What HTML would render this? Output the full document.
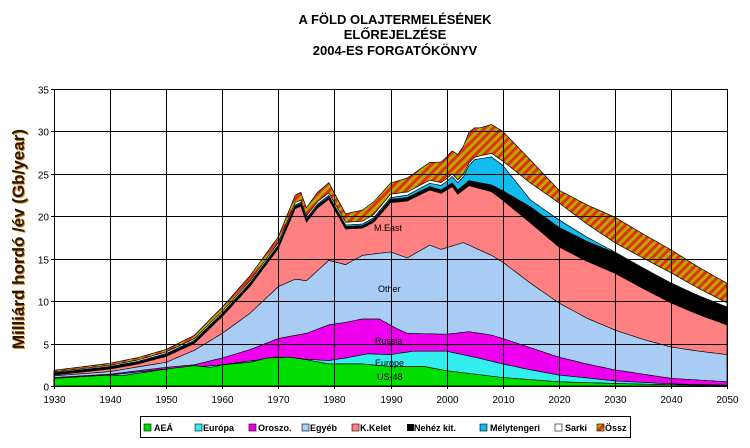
<!DOCTYPE html>
<html><head><meta charset="utf-8"><style>
body{margin:0;background:#fff;}
svg{display:block;font-family:"Liberation Sans",sans-serif;}
</style></head><body>
<svg id="s" width="750" height="448" viewBox="0 0 750 448" xmlns="http://www.w3.org/2000/svg">
<defs>
<pattern id="h" patternUnits="userSpaceOnUse" width="6" height="6" patternTransform="rotate(45)">
<rect width="6" height="6" fill="#b8a800"/><rect width="3" height="6" fill="#e03010"/>
</pattern>
</defs>
<g font-weight="bold" font-size="13" text-anchor="middle" fill="#000">
<text x="395" y="24">A FÖLD OLAJTERMELÉSÉNEK</text>
<text x="395" y="39">ELŐREJELZÉSE</text>
<text x="395" y="55">2004-ES FORGATÓKÖNYV</text>
</g>
<g id="areas"></g>
<g id="grid" stroke="#000" stroke-width="1"></g>
<g font-size="9" fill="#000">
<text x="374" y="231">M.East</text>
<text x="378" y="292">Other</text>
<text x="375" y="344">Russia</text>
<text x="375" y="366">Europe</text>
<text x="377" y="380">US-48</text>
</g>
<g id="ticks" font-size="10" fill="#000"></g>
<text transform="translate(25,240) rotate(-90)" text-anchor="middle" font-size="17" font-weight="bold" fill="#e08a20">Milliárd hordó /év (Gb/year)</text>
<text transform="translate(24,239) rotate(-90)" text-anchor="middle" font-size="17" font-weight="bold" fill="#2a1500">Milliárd hordó /év (Gb/year)</text>
<rect x="140.5" y="416.5" width="490" height="21" fill="#fff" stroke="#000"/>
<g font-size="9" font-weight="bold" fill="#000">
<rect x="144" y="424" width="7" height="7" fill="#00dd00" stroke="#000" stroke-width="0.6"/><text x="154" y="431">AEÁ</text>
<rect x="195" y="424" width="7" height="7" fill="#33eeee" stroke="#000" stroke-width="0.6"/><text x="203" y="431">Európa</text>
<rect x="249" y="424" width="7" height="7" fill="#ee00ee" stroke="#000" stroke-width="0.6"/><text x="258" y="431">Oroszo.</text>
<rect x="302" y="424" width="7" height="7" fill="#a8ccf4" stroke="#000" stroke-width="0.6"/><text x="310" y="431">Egyéb</text>
<rect x="352" y="424" width="7" height="7" fill="#ff8080" stroke="#000" stroke-width="0.6"/><text x="360" y="431">K.Kelet</text>
<rect x="407" y="424" width="7" height="7" fill="#000"/><text x="414" y="431">Nehéz kit.</text>
<rect x="480" y="424" width="7" height="7" fill="#11bbee" stroke="#000" stroke-width="0.6"/><text x="490" y="431">Mélytengeri</text>
<rect x="555" y="424" width="7" height="7" fill="#fff" stroke="#000" stroke-width="0.6"/><text x="565" y="431">Sarki</text>
<rect x="597" y="424" width="7" height="7" fill="url(#h)" stroke="#000" stroke-width="0.6"/><text x="605" y="431">Össz</text>
</g>
</svg>
<script>
var X0=54,X1=727,Y0=386,Y35=89;
function px(y){return X0+(y-1930)*(X1-X0)/120;}
function py(v){return Y0-v*(Y0-Y35)/35;}
function I(d,y){for(var i=0;i<d.length-1;i++){if(y>=d[i][0]&&y<=d[i+1][0]){var t=(y-d[i][0])/(d[i+1][0]-d[i][0]);return d[i][1]+t*(d[i+1][1]-d[i][1]);}}return d[d.length-1][1];}
var ME=[[1930,1.3],[1940,2.0],[1945,2.6],[1950,3.5],[1955,5.0],[1960,8.2],[1965,11.8],[1970,16.2],[1973,20.9],[1974,21.2],[1975,19.3],[1977,21.0],[1979,22.0],[1982,18.5],[1985,18.6],[1987,19.3],[1990,21.6],[1993,21.8],[1997,23.1],[1999,22.7],[2001,23.5],[2002,22.6],[2004,23.6],[2008,22.9],[2010,21.9],[2015,19.2],[2020,16.4],[2025,14.7],[2030,13.3],[2035,11.5],[2040,9.8],[2045,8.4],[2050,7.2]];
var dB=[[1930,0.2],[1985,0.3],[1990,0.4],[2000,0.4],[2004,0.6],[2008,0.8],[2015,1.9],[2020,2.3],[2030,2.4],[2040,2.3],[2050,2.1]];
var dD=[[1930,0.05],[1990,0.2],[1997,0.4],[2000,0.6],[2003,1.0],[2005,2.6],[2008,3.3],[2010,3.0],[2015,0.8],[2020,0.9],[2030,0.1],[2050,0]];
var dW=[[1930,0.1],[1980,0.3],[1990,0.4],[2005,0.3],[2010,0.5],[2015,2.0],[2020,2.0],[2030,1.1],[2040,1.2],[2050,0.5]];
var dT=[[1930,0.2],[1950,0.3],[1960,0.5],[1970,0.7],[1979,1.2],[1982,1.0],[1987,1.5],[1990,1.3],[1997,2.1],[2001,2.7],[2004,3.6],[2006,3.3],[2010,3.5],[2015,2.7],[2020,1.5],[2030,3.0],[2040,2.7],[2050,2.3]];
function fB(y){return I(ME,y)+I(dB,y);}
function fD(y){return fB(y)+I(dD,y);}
function fW(y){return fD(y)+I(dW,y);}
function fT(y){return fW(y)+I(dT,y);}
var OT=[[1930,1.2],[1940,1.7],[1950,2.8],[1955,4.2],[1960,6.2],[1965,8.6],[1970,11.7],[1973,12.6],[1975,12.4],[1979,14.8],[1982,14.3],[1985,15.4],[1990,15.8],[1993,15.1],[1997,16.6],[1999,16.1],[2003,16.9],[2008,15.4],[2010,14.6],[2015,12.1],[2020,9.8],[2025,8.0],[2030,6.6],[2035,5.5],[2040,4.6],[2045,4.1],[2050,3.7]];
var RU=[[1930,1.0],[1940,1.4],[1950,2.2],[1955,2.5],[1960,3.3],[1965,4.3],[1970,5.6],[1975,6.2],[1979,7.2],[1982,7.5],[1985,7.9],[1988,7.9],[1991,6.8],[1993,6.2],[2000,6.1],[2004,6.4],[2008,6.0],[2010,5.6],[2015,4.5],[2020,3.4],[2025,2.6],[2030,1.9],[2040,0.9],[2050,0.5]];
var EU=[[1930,0.9],[1940,1.3],[1950,2.0],[1960,2.5],[1970,3.4],[1975,3.15],[1979,3.0],[1982,3.3],[1986,3.8],[1990,3.7],[1994,4.1],[2000,4.1],[2005,3.4],[2010,2.6],[2015,1.9],[2020,1.3],[2030,0.6],[2040,0.25],[2050,0.1]];
var GR=[[1930,0.9],[1940,1.3],[1942,1.2],[1950,2.0],[1955,2.4],[1958,2.2],[1960,2.5],[1965,2.8],[1968,3.3],[1972,3.4],[1975,3.1],[1979,2.6],[1985,2.6],[1990,2.3],[1996,2.3],[2000,1.8],[2010,1.0],[2020,0.5],[2030,0.3],[2040,0.15],[2050,0.05]];
function w(d){return function(y){return I(d,y);};}
var L=[["url(#h)",fT],["#fff",fW],["#11bbee",fD],["#000",fB],["#ff8080",w(ME)],["#a8ccf4",w(OT)],["#ee00ee",w(RU)],["#33eeee",w(EU)],["#00dd00",w(GR)]];
var ns="http://www.w3.org/2000/svg",A=document.getElementById("areas");
L.forEach(function(l){var d="M"+px(1930)+","+Y0;for(var y=1930;y<=2050.001;y+=0.5){d+=" L"+px(y).toFixed(1)+","+py(l[1](y)).toFixed(1);}d+=" L"+px(2050)+","+Y0+"Z";var p=document.createElementNS(ns,"path");p.setAttribute("d",d);p.setAttribute("fill",l[0]);p.setAttribute("stroke","#000");p.setAttribute("stroke-width","0.7");A.appendChild(p);});
var G=document.getElementById("grid"),T=document.getElementById("ticks");
function ln(a,b,c,d){var e=document.createElementNS(ns,"line");e.setAttribute("x1",a);e.setAttribute("y1",b);e.setAttribute("x2",c);e.setAttribute("y2",d);G.appendChild(e);}
function tx(x,y,s,a){var e=document.createElementNS(ns,"text");e.setAttribute("x",x);e.setAttribute("y",y);e.setAttribute("text-anchor",a);e.textContent=s;T.appendChild(e);}
for(var v=0;v<=35;v+=5){var y=Math.round(py(v))+0.5;ln(X0-3,y,X1,y);tx(X0-5,y+4,v,"end");}
for(var yr=1930;yr<=2050;yr+=10){var x=Math.round(px(yr))+0.5;ln(x,py(35),x,Y0+3);tx(x,Y0+17,yr,"middle");}
</script>
</body></html>
